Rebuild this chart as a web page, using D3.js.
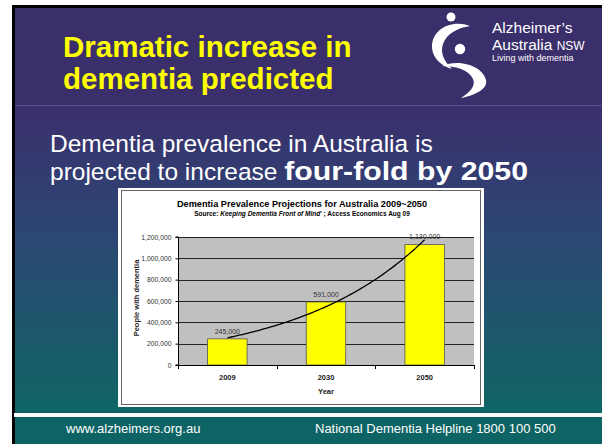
<!DOCTYPE html>
<html>
<head>
<meta charset="utf-8">
<script src="https://cdn.jsdelivr.net/npm/d3@7"></script>
<style>
  html, body { margin: 0; padding: 0; background: #ffffff; }
  svg { display: block; }
</style>
</head>
<body>
<svg id="chart" width="602" height="444"></svg>
<script>
// ---------- data ----------
const categories = ["2009", "2030", "2050"];
const values = [245000, 591000, 1130000];
const valueLabels = ["245,000", "591,000", "1,130,000"];
const yTicks = [0, 200000, 400000, 600000, 800000, 1000000, 1200000];
const slideTitle = ["Dramatic increase in", "dementia predicted"];
const chartTitle = "Dementia Prevalence Projections for Australia 2009~2050";
const yAxisTitle = "People with dementia";
const xAxisTitle = "Year";
const footerLeft = "www.alzheimers.org.au";
const footerRight = "National Dementia Helpline 1800 100 500";

const svg = d3.select("#chart");
const defs = svg.append("defs");
const cf = "Liberation Sans, Arial, sans-serif";

// ---------- slide background ----------
const grad = defs.append("linearGradient").attr("id", "bodyGrad")
  .attr("x1", 0).attr("y1", 0).attr("x2", 0).attr("y2", 1);
grad.append("stop").attr("offset", "0%").attr("stop-color", "#3b2f6c");
grad.append("stop").attr("offset", "35%").attr("stop-color", "#2f4374");
grad.append("stop").attr("offset", "100%").attr("stop-color", "#0f6565");

svg.append("rect").attr("x", 12).attr("y", 5).attr("width", 590).attr("height", 439).attr("fill", "#000");
svg.append("rect").attr("x", 15).attr("y", 8).attr("width", 587).attr("height", 97).attr("fill", "#3a2e6b");
svg.append("rect").attr("x", 15).attr("y", 105).attr("width", 587).attr("height", 308).attr("fill", "url(#bodyGrad)");
svg.append("line").attr("x1", 15).attr("x2", 602).attr("y1", 105.5).attr("y2", 105.5)
  .attr("stroke", "#5d518f").attr("stroke-width", 1);
svg.append("rect").attr("x", 14).attr("y", 413).attr("width", 588).attr("height", 4).attr("fill", "#fff");
svg.append("rect").attr("x", 15).attr("y", 417).attr("width", 587).attr("height", 27).attr("fill", "#0e6464");

// ---------- slide title ----------
svg.append("g").selectAll("text").data(slideTitle).join("text")
  .attr("x", 63).attr("y", (d, i) => 57 + i * 32)
  .attr("fill", "#ffff00").attr("font-family", cf)
  .attr("font-weight", "bold").attr("font-size", 29.5).text(d => d);

// ---------- logo ----------
const logo = svg.append("g").attr("fill", "#fff");
logo.append("circle").attr("cx", 451).attr("cy", 17).attr("r", 4.5);
logo.append("path").attr("d", "M470,26 C452,19 431,29 432,48 C433,59 442,66 452,69 C444,61 440,53 443,44 C447,33 458,28 470,26 Z");
logo.append("circle").attr("cx", 460).attr("cy", 49).attr("r", 5.2);
logo.append("path").attr("d", "M442,66 C458,59 482,65 486,80 C488,89 476,95 461,98 C470,92 476,86 473,79 C468,69 455,66 442,66 Z");
const lt = svg.append("g").attr("fill", "#fff").attr("font-family", cf);
lt.append("text").attr("x", 492).attr("y", 33).attr("font-size", 15.5).text("Alzheimer\u2019s");
const au = lt.append("text").attr("x", 492).attr("y", 50).attr("font-size", 15.5).text("Australia ");
au.append("tspan").attr("font-size", 12).text("NSW");
lt.append("text").attr("x", 492).attr("y", 61).attr("font-size", 9).text("Living with dementia");

// ---------- body text ----------
const body = svg.append("g").attr("fill", "#fff").attr("font-family", cf);
body.append("text").attr("x", 50).attr("y", 152).attr("font-size", 24.5).text("Dementia prevalence in Australia is");
const reg = body.append("text").attr("x", 50).attr("y", 180).attr("font-size", 24.5).text("projected to increase");
const regW = reg.node().getComputedTextLength();
const boldX = 50 + regW + 24.5 * 0.278;
body.append("text").attr("x", boldX).attr("y", 180).attr("font-size", 25.5).attr("font-weight", "bold")
  .attr("textLength", 528 - boldX).attr("lengthAdjust", "spacingAndGlyphs").text("four-fold by 2050");

// ---------- chart box ----------
svg.append("rect").attr("x", 118).attr("y", 188).attr("width", 366).attr("height", 219).attr("fill", "#fff");
svg.append("rect").attr("x", 121.5).attr("y", 190.5).attr("width", 359).attr("height", 214)
  .attr("fill", "none").attr("stroke", "#666").attr("stroke-width", 1);

svg.append("text").attr("x", 302).attr("y", 207).attr("text-anchor", "middle")
  .attr("font-family", cf).attr("font-weight", "bold").attr("font-size", 9.2).attr("fill", "#000").text(chartTitle);
const src = svg.append("text").attr("x", 302).attr("y", 216).attr("text-anchor", "middle")
  .attr("font-family", cf).attr("font-weight", "bold").attr("font-size", 6.5).attr("fill", "#000");
src.append("tspan").text("Source:  ");
src.append("tspan").attr("font-style", "italic").text("Keeping Dementia Front of Mind");
src.append("tspan").text("' ; Access Economics Aug 09");

// ---------- plot ----------
const plot = { left: 178, right: 474, top: 237, bottom: 365 };
const x = d3.scaleBand().domain(categories).range([plot.left, plot.right])
  .paddingInner(0.6).paddingOuter(0.3);
const xEdge = d3.scaleLinear().domain([0, categories.length]).range([plot.left, plot.right]);
const y = d3.scaleLinear().domain([0, 1200000]).range([plot.bottom, plot.top]);

svg.append("rect").attr("x", plot.left).attr("y", plot.top).attr("width", plot.right - plot.left)
  .attr("height", plot.bottom - plot.top).attr("fill", "#c0c0c0");

// gridlines
svg.append("g").selectAll("line").data(yTicks.filter(d => d > 0)).join("line")
  .attr("x1", plot.left).attr("x2", plot.right)
  .attr("y1", d => Math.round(y(d)) + 0.5).attr("y2", d => Math.round(y(d)) + 0.5)
  .attr("stroke", "#222").attr("stroke-width", 1);

// bars
svg.append("g").selectAll("rect").data(values).join("rect")
  .attr("x", (d, i) => x(categories[i])).attr("width", x.bandwidth())
  .attr("y", d => y(d)).attr("height", d => plot.bottom - y(d))
  .attr("fill", "#ffff00").attr("stroke", "#555").attr("stroke-width", 0.8);

// exponential trendline (least-squares fit of the data)
const idx = values.map((d, i) => i + 1);
const lv = values.map(Math.log);
const mx = d3.mean(idx), my = d3.mean(lv);
const b = d3.sum(idx, (d, i) => (d - mx) * (lv[i] - my)) / d3.sum(idx, d => (d - mx) ** 2);
const a = my - b * mx;
const xi = d3.scaleLinear().domain([1, categories.length])
  .range([x(categories[0]) + x.bandwidth() / 2, x(categories[categories.length - 1]) + x.bandwidth() / 2]);
const trend = d3.range(1, categories.length + 0.001, 0.02).map(t => [t, Math.exp(a + b * t)]);
defs.append("clipPath").attr("id", "plotClip").append("rect")
  .attr("x", plot.left).attr("y", plot.top - 1).attr("width", plot.right - plot.left).attr("height", plot.bottom - plot.top + 1);
svg.append("path").datum(trend).attr("clip-path", "url(#plotClip)")
  .attr("d", d3.line().x(d => xi(d[0])).y(d => y(d[1])).curve(d3.curveBasis))
  .attr("fill", "none").attr("stroke", "#000").attr("stroke-width", 1.3);

// value labels
svg.append("g").selectAll("text").data(values).join("text")
  .attr("x", (d, i) => x(categories[i]) + x.bandwidth() / 2).attr("y", d => y(d) - 5)
  .attr("text-anchor", "middle").attr("font-family", cf).attr("font-size", 7).attr("fill", "#333")
  .text((d, i) => valueLabels[i]);

// y axis
const yAxis = d3.axisLeft(y).tickValues(yTicks).tickFormat(d3.format(",")).tickSize(3).tickPadding(4);
const gy = svg.append("g").attr("transform", `translate(${plot.left + 0.5},0)`).call(yAxis);
gy.select(".domain").attr("stroke", "#000").attr("d", `M-3,${plot.top}H0V${plot.bottom}H-3`);
gy.selectAll(".tick line").attr("stroke", "#000");
gy.selectAll("text").attr("font-family", cf).attr("font-size", 6.8).attr("fill", "#333");

// x axis
svg.append("line").attr("x1", plot.left).attr("x2", plot.right)
  .attr("y1", plot.bottom + 0.5).attr("y2", plot.bottom + 0.5).attr("stroke", "#000");
svg.append("g").selectAll("line").data(d3.range(0, categories.length + 1)).join("line")
  .attr("x1", d => Math.round(xEdge(d)) + 0.5).attr("x2", d => Math.round(xEdge(d)) + 0.5)
  .attr("y1", plot.bottom).attr("y2", plot.bottom + 4).attr("stroke", "#000");
svg.append("g").selectAll("text").data(categories).join("text")
  .attr("x", d => x(d) + x.bandwidth() / 2).attr("y", plot.bottom + 15)
  .attr("text-anchor", "middle").attr("font-family", cf).attr("font-weight", "bold")
  .attr("font-size", 7.5).attr("fill", "#222").text(d => d);

svg.append("text").attr("x", (plot.left + plot.right) / 2).attr("y", plot.bottom + 29)
  .attr("text-anchor", "middle").attr("font-family", cf).attr("font-weight", "bold")
  .attr("font-size", 7.5).attr("fill", "#222").text(xAxisTitle);
svg.append("text").attr("transform", `translate(138.5,298) rotate(-90)`)
  .attr("text-anchor", "middle").attr("font-family", cf).attr("font-weight", "bold")
  .attr("font-size", 7.5).attr("fill", "#222").text(yAxisTitle);

// ---------- footer ----------
const ft = svg.append("g").attr("fill", "#fff").attr("font-family", cf).attr("font-size", 13);
ft.append("text").attr("x", 66).attr("y", 433).text(footerLeft);
ft.append("text").attr("x", 315).attr("y", 433).text(footerRight);
</script>
</body>
</html>
